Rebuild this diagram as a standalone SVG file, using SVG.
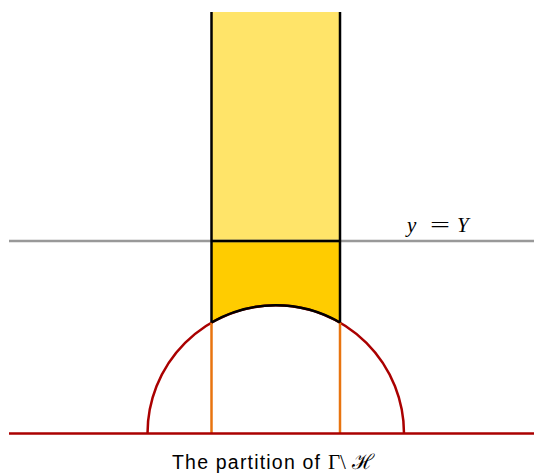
<svg xmlns="http://www.w3.org/2000/svg" width="534" height="473" viewBox="0 0 534 473">
<style>
.blk{stroke:#000;stroke-width:2.5;fill:none}
.red{stroke:#aa0000;stroke-width:2.5;fill:none}
.org{stroke:#e8740f;stroke-width:2.5;fill:none}
.gry{stroke:#999;stroke-width:2.5;fill:none}
.math{font-family:"Liberation Serif","DejaVu Serif",serif;font-size:21px}
.cap{font-family:"Liberation Sans",Arial,sans-serif;font-size:19.5px}
</style>
<rect width="534" height="473" fill="#fff"/>
<g id="regions">
<rect id="upper" x="211.5" y="12" width="128.5" height="229" fill="#ffe469"/>
<path id="lower" d="M211.5,241 L340,241 L340,322.5 A128.25,128.25 0 0 0 211.5,322.5 Z" fill="#ffcc00"/>
</g>
<g id="connectors">
<line class="gry" x1="9" y1="241" x2="534" y2="241"/>
<path class="red" d="M147.5,433.5 A128.25,128.25 0 0 1 404,433.5"/>
<line class="org" x1="211.5" y1="322.5" x2="211.5" y2="433.5"/>
<line class="org" x1="340" y1="322.5" x2="340" y2="433.5"/>
<line class="blk" x1="211.5" y1="12" x2="211.5" y2="322.5"/>
<line class="blk" x1="340" y1="12" x2="340" y2="322.5"/>
<line class="blk" x1="211.5" y1="241" x2="340" y2="241"/>
<path class="blk" d="M340,322.5 A128.25,128.25 0 0 0 211.5,322.5"/>
<line class="red" x1="9" y1="433.5" x2="534" y2="433.5"/>
</g>
<g id="labels">
<text class="math" x="407" y="232" font-style="italic" font-size="22">y</text>
<text class="math" x="430" y="232" textLength="20" lengthAdjust="spacingAndGlyphs">=</text>
<text class="math" x="457" y="232" font-style="italic" font-size="23">Y</text>
<text class="cap" x="172" y="469" textLength="148" lengthAdjust="spacing">The partition of</text>
<text class="math" x="328" y="469" font-size="20">Γ</text>
<text class="math" x="340" y="469" font-size="20">\</text>
<text class="math" x="352" y="469" font-size="22">ℋ</text>
</g>
</svg>
